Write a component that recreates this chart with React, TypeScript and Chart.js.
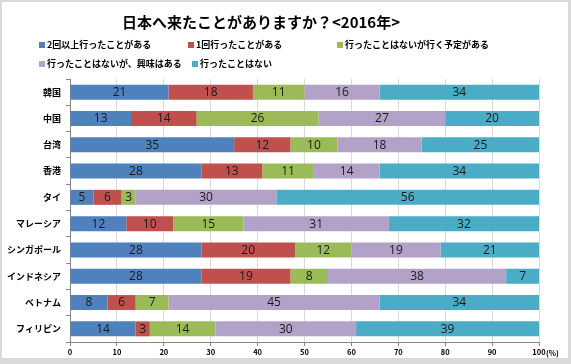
import React, { useEffect, useRef } from "react";
import { Chart, registerables } from "chart.js";
Chart.register(...registerables);

const TITLE = "日本へ来たことがありますか？<2016年>";
const categories = ["韓国", "中国", "台湾", "香港", "タイ", "マレーシア", "シンガポール", "インドネシア", "ベトナム", "フィリピン"];
const seriesNames = ["2回以上行ったことがある", "1回行ったことがある", "行ったことはないが行く予定がある", "行ったことはないが、興味はある", "行ったことはない"];
const twiceOrMore = [21, 13, 35, 28, 5, 12, 28, 28, 8, 14];
const once = [18, 14, 12, 13, 6, 10, 20, 19, 6, 3];
const planned = [11, 26, 10, 11, 3, 15, 12, 8, 7, 14];
const interested = [16, 27, 18, 14, 30, 31, 19, 38, 45, 30];
const never = [34, 20, 25, 34, 56, 32, 21, 7, 34, 39];
const xTicks = [0, 10, 20, 30, 40, 50, 60, 70, 80, 90, 100];
const colors = ["#4F81BD", "#C0504D", "#9BBB59", "#B3A2C7", "#4BACC6"];

const JP = '"Noto Sans CJK JP", "Noto Sans", sans-serif';

const overlayPlugin = {
  id: "overlay",
  afterDatasetsDraw(chart: any) {
    const ctx = chart.ctx;
    ctx.save();
    ctx.fillStyle = "#1a1a1a";
    ctx.font = `12px "Open Sans", "Noto Sans", sans-serif`;
    ctx.textAlign = "center";
    ctx.textBaseline = "middle";
    chart.data.datasets.forEach((ds: any, i: number) => {
      const meta = chart.getDatasetMeta(i);
      meta.data.forEach((el: any, j: number) => {
        const v = ds.data[j];
        ctx.fillText(String(v), (el.x + el.base) / 2, el.y + 0.5);
      });
    });
    ctx.restore();
  },
  afterDraw(chart: any) {
    const ctx = chart.ctx;
    ctx.save();
    ctx.fillStyle = "#000";
    ctx.font = `bold 15px ${JP}`;
    ctx.textAlign = "center";
    ctx.textBaseline = "middle";
    ctx.fillText(TITLE, 261, 22);
    const pos = [[42, 45], [191, 45], [340, 45], [42, 64], [195, 64]];
    ctx.font = `bold 9px ${JP}`;
    ctx.textAlign = "left";
    chart.data.datasets.forEach((ds: any, i: number) => {
      const [x, y] = pos[i];
      ctx.fillStyle = ds.backgroundColor;
      ctx.fillRect(x - 3, y - 3, 6, 6);
      ctx.fillStyle = "#000";
      ctx.fillText(ds.label, x + 5, y);
    });
    const xs = chart.scales.x;
    ctx.font = `bold 7.5px ${JP}`;
    ctx.fillText("(%)", xs.getPixelForValue(100) + 7, 353);
    ctx.restore();
  },
};

export default function App() {
  const ref = useRef<HTMLCanvasElement>(null);
  useEffect(() => {
    const series = [twiceOrMore, once, planned, interested, never];
    const chart = new Chart(ref.current!, {
      type: "bar",
      data: {
        labels: categories,
        datasets: series.map((d, i) => ({
          label: seriesNames[i],
          data: d,
          backgroundColor: colors[i],
          borderWidth: 0,
          categoryPercentage: 1,
          barPercentage: 0.57,
        })),
      },
      options: {
        indexAxis: "y",
        animation: false,
        responsive: false,
        devicePixelRatio: 1,
        layout: { padding: { left: 0, right: 32, top: 79, bottom: 0 } },
        plugins: { legend: { display: false }, title: { display: false }, tooltip: { enabled: false } },
        scales: {
          x: {
            stacked: true,
            min: 0,
            max: 100,
            afterFit: (s: any) => { s.height = 22; },
            afterBuildTicks: (s: any) => { s.ticks = xTicks.map((v) => ({ value: v })); },
            grid: { color: "#D9D9D9", tickColor: "#868686", tickLength: 4, lineWidth: 1 },
            border: { color: "#868686" },
            ticks: { color: "#000", font: { size: 7.5, weight: "bold", family: JP }, padding: 2, maxRotation: 0 },
          },
          y: {
            stacked: true,
            afterFit: (s: any) => { s.width = 70; },
            grid: { offset: true, drawOnChartArea: false, tickColor: "#868686", tickLength: 4 },
            border: { color: "#868686" },
            ticks: { color: "#000", font: { size: 9, weight: "bold", family: JP }, padding: 5 },
          },
        },
      },
      plugins: [overlayPlugin],
    } as any);
    return () => chart.destroy();
  }, []);
  return (
    <div style={{ position: "fixed", left: 0, top: 0, width: 571, height: 364, background: "#D9D9D9" }}>
      <div style={{ position: "absolute", left: 2, top: 2, width: 566, height: 356, background: "#fff" }} />
      <canvas ref={ref} width={571} height={364} style={{ position: "absolute", left: 0, top: 0, width: 571, height: 364 }} />
    </div>
  );
}
